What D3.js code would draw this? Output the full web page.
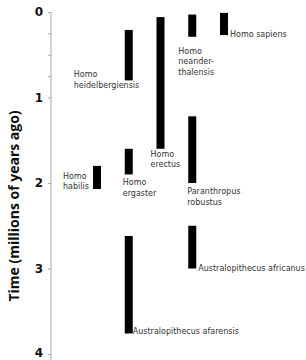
<!DOCTYPE html>
<html>
<head>
<meta charset="utf-8">
<script src="https://cdn.jsdelivr.net/npm/d3@7"></script>
<style>
  html, body { margin: 0; padding: 0; background: #fff; }
  svg { display: block; }
  .axis-title { font-family: "Open Sans", sans-serif; font-weight: bold; font-size: 14px; fill: #111; }
  .y-axis text { font-family: "DejaVu Sans", sans-serif; font-weight: bold; font-size: 12px; fill: #111; }
  .y-axis path, .y-axis line { stroke: #aaa; }
  .species-label { font-family: "DejaVu Sans", sans-serif; font-size: 8px; fill: #333; }
</style>
</head>
<body>
<div id="chart"></div>
<script>
// species ranges, millions of years ago
const species = [
  "Homo habilis", "Homo heidelbergiensis", "Homo ergaster", "Australopithecus afarensis",
  "Homo erectus", "Homo neanderthalensis", "Paranthropus robustus",
  "Australopithecus africanus", "Homo sapiens"
];
const startMya = [1.8, 0.21, 1.6, 2.62, 0.06, 0.03, 1.22, 2.5, 0.01];
const endMya = [2.07, 0.8, 1.9, 3.76, 1.6, 0.29, 2.0, 3.0, 0.27];
const lane = ["a", "b", "b", "b", "c", "d", "d", "d", "e"];
const labelLines = [
  ["Homo", "habilis"],
  ["Homo", "heidelbergiensis"],
  ["Homo", "ergaster"],
  ["Australopithecus afarensis"],
  ["Homo", "erectus"],
  ["Homo", "neander-", "thalensis"],
  ["Paranthropus", "robustus"],
  ["Australopithecus africanus"],
  ["Homo sapiens"]
];
const tickValues = [0, 0.25, 0.5, 0.75, 1, 2, 3, 4];

// label offsets from the bar's left edge / bottom end
const labelOffset = [
  {dx: -30, dy: -10},
  {dx: -51, dy: -3},
  {dx: -2, dy: 11},
  {dx: 8, dy: 1},
  {dx: -6, dy: 8},
  {dx: -10, dy: 17},
  {dx: -1, dy: 11},
  {dx: 10, dy: 2},
  {dx: 10, dy: 2}
];

const width = 306, height = 360;
const margin = {top: 12, left: 51};
const barWidth = 8;
const lineHeight = 10.5;

const svg = d3.select("#chart").append("svg")
  .attr("width", width)
  .attr("height", height);

const y = d3.scaleLinear().domain([0, 4]).range([margin.top, 354]);
const x = d3.scalePoint().domain(["a", "b", "c", "d", "e"]).range([93, 220]);

const rows = species.map((name, i) => ({
  name, start: startMya[i], end: endMya[i], lane: lane[i], lines: labelLines[i], off: labelOffset[i]
}));

// axis
const axis = svg.append("g")
  .attr("class", "y-axis")
  .attr("transform", `translate(${margin.left},0)`)
  .call(d3.axisLeft(y)
    .tickValues(tickValues)
    .tickSize(3)
    .tickSizeOuter(0)
    .tickPadding(5)
    .tickFormat((d) => Number.isInteger(d) ? d : ""));
axis.select(".domain").attr("d", `M0,${y(0)}V${height}`);
axis.selectAll(".tick text").filter((d) => d === 4).attr("dy", "0.2em");

svg.append("text")
  .attr("class", "axis-title")
  .attr("transform", `translate(19,${(y(0) + height) / 2 + 20}) rotate(-90)`)
  .attr("text-anchor", "middle")
  .text("Time (millions of years ago)");

// bars
svg.selectAll("rect.bar")
  .data(rows)
  .join("rect")
  .attr("class", "bar")
  .attr("x", (d) => x(d.lane))
  .attr("y", (d) => y(d.start))
  .attr("width", barWidth)
  .attr("height", (d) => y(d.end) - y(d.start))
  .attr("fill", "#000");

// labels
const label = svg.selectAll("text.species-label")
  .data(rows)
  .join("text")
  .attr("class", "species-label")
  .attr("x", (d) => x(d.lane) + d.off.dx)
  .attr("y", (d) => y(d.end) + d.off.dy);

label.selectAll("tspan")
  .data((d) => d.lines.map((t, i) => ({t, i, x: x(d.lane) + d.off.dx})))
  .join("tspan")
  .attr("x", (d) => d.x)
  .attr("dy", (d) => d.i === 0 ? 0 : lineHeight)
  .text((d) => d.t);
</script>
</body>
</html>
